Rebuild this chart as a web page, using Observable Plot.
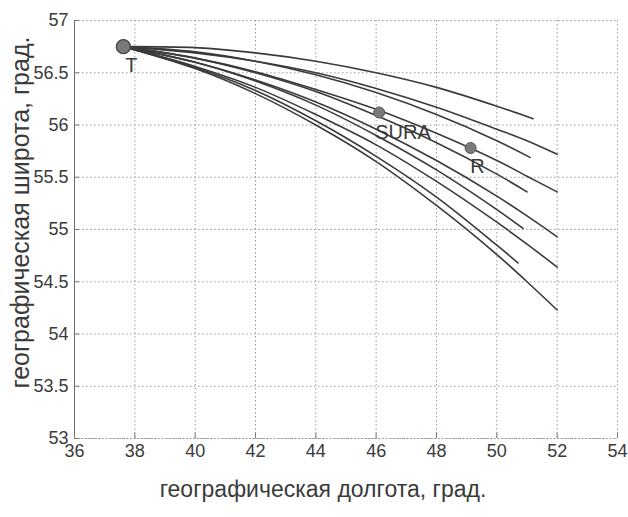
<!DOCTYPE html>
<html>
<head>
<meta charset="utf-8">
<script src="https://cdn.jsdelivr.net/npm/d3@7"></script>
<script src="https://cdn.jsdelivr.net/npm/@observablehq/plot@0.6"></script>
<style>
  html, body { margin: 0; padding: 0; background: #fff; }
  #chart svg { font-family: "Liberation Sans", Arial, sans-serif; }
</style>
</head>
<body>
<div id="chart"></div>
<script>
// Axis ticks
const xTicks = [36, 38, 40, 42, 44, 46, 48, 50, 52, 54];
const yTicks = [53, 53.5, 54, 54.5, 55, 55.5, 56, 56.5, 57];
const xLabel = "географическая долгота, град.";
const yLabel = "географическая широта, град.";

// Points (lon, lat)
const siteNames = ["T", "SURA", "R"];
const siteLon = [37.62, 46.1, 49.13];
const siteLat = [56.75, 56.12, 55.78];

// Ray paths (longitude / latitude)
const curveA_lon = [37.62, 40, 42, 44, 46, 48, 50, 51.2];
const curveA_lat = [56.75, 56.74, 56.69, 56.61, 56.50, 56.36, 56.18, 56.06];
const curveB_lon = [37.62, 40, 42, 44, 46, 48, 50, 51, 52];
const curveB_lat = [56.75, 56.69, 56.61, 56.50, 56.35, 56.17, 55.96, 55.85, 55.72];
const curveC_lon = [37.62, 40, 42, 44, 46, 48, 50, 51.1];
const curveC_lat = [56.75, 56.70, 56.61, 56.48, 56.31, 56.10, 55.85, 55.69];
const curveD_lon = [37.62, 40, 42, 44, 46, 48, 50, 51, 52];
const curveD_lat = [56.75, 56.64, 56.51, 56.34, 56.15, 55.92, 55.66, 55.51, 55.36];
const curveE_lon = [37.62, 40, 42, 44, 46, 48, 50, 51.0];
const curveE_lat = [56.75, 56.64, 56.50, 56.32, 56.09, 55.83, 55.53, 55.36];
const curveF_lon = [37.62, 40, 42, 44, 46, 48, 50, 51, 52];
const curveF_lat = [56.75, 56.60, 56.43, 56.22, 55.96, 55.66, 55.32, 55.13, 54.93];
const curveG_lon = [37.62, 40, 42, 44, 46, 48, 50, 50.87];
const curveG_lat = [56.75, 56.60, 56.42, 56.19, 55.90, 55.57, 55.19, 55.01];
const curveH_lon = [37.62, 40, 42, 44, 46, 48, 50, 51, 52];
const curveH_lat = [56.75, 56.56, 56.36, 56.10, 55.81, 55.46, 55.07, 54.86, 54.64];
const curveI_lon = [37.62, 40, 42, 44, 46, 48, 50, 50.7];
const curveI_lat = [56.75, 56.55, 56.33, 56.04, 55.70, 55.31, 54.85, 54.68];
const curveJ_lon = [37.62, 40, 42, 44, 46, 48, 50, 51, 52];
const curveJ_lat = [56.75, 56.54, 56.30, 56.00, 55.65, 55.23, 54.76, 54.50, 54.23];

const curves = [
  ["A", curveA_lon, curveA_lat], ["B", curveB_lon, curveB_lat],
  ["C", curveC_lon, curveC_lat], ["D", curveD_lon, curveD_lat],
  ["E", curveE_lon, curveE_lat], ["F", curveF_lon, curveF_lat],
  ["G", curveG_lon, curveG_lat], ["H", curveH_lon, curveH_lat],
  ["I", curveI_lon, curveI_lat], ["J", curveJ_lon, curveJ_lat]
];
const rows = curves.flatMap(([id, lon, lat]) => lon.map((x, i) => ({id, x, y: lat[i]})));
const sites = siteNames.map((name, i) => ({name, x: siteLon[i], y: siteLat[i]}));
const siteT = sites.filter(d => d.name === "T");
const siteSura = sites.filter(d => d.name === "SURA");
const siteR = sites.filter(d => d.name === "R");

const ink = "#3a3a3a";
const grid = "#9a9a9a";

const chart = Plot.plot({
  width: 628,
  height: 517,
  marginTop: 20,
  marginRight: 11,
  marginBottom: 79,
  marginLeft: 74,
  style: {background: "#fff", color: ink, fontSize: "18px", fontFamily: "'Liberation Sans', Arial, sans-serif"},
  x: {domain: [36, 54], ticks: xTicks},
  y: {domain: [53, 57], ticks: yTicks},
  marks: [
    Plot.gridX(xTicks, {stroke: grid, strokeOpacity: 1, strokeDasharray: "1.5,2.5"}),
    Plot.gridY(yTicks, {stroke: grid, strokeOpacity: 1, strokeDasharray: "1.5,2.5"}),
    Plot.ruleX([36], {stroke: "#6a6a6a", strokeWidth: 1}),
    Plot.ruleY([53], {stroke: "#a0a0a0", strokeWidth: 1, strokeDasharray: "2,1.5"}),
    Plot.ruleX(xTicks, {y1: 53, y2: 53.05, stroke: "#777"}),
    Plot.ruleY(yTicks, {x1: 36, x2: 36.17, stroke: "#777"}),
    Plot.axisX(xTicks, {tickSize: 0, tickPadding: 6, label: null, fontSize: 18, fill: ink, tickFormat: d => String(d)}),
    Plot.axisY(yTicks, {tickSize: 0, tickPadding: 6, label: null, fontSize: 18, fill: ink, tickFormat: d => String(d)}),
    Plot.line(rows, {x: "x", y: "y", z: "id", curve: "catmull-rom", stroke: ink, strokeWidth: 1.6}),
    Plot.dot(siteT, {x: "x", y: "y", r: 7, fill: "#7a7a7a", stroke: "#444", strokeWidth: 1.3}),
    Plot.dot(siteSura.concat(siteR), {x: "x", y: "y", r: 5.5, fill: "#7a7a7a", stroke: "#555", strokeWidth: 1}),
    Plot.text(siteT, {x: "x", y: "y", text: "name", dx: 8, dy: 19, fontSize: 20, fill: ink}),
    Plot.text(siteSura, {x: "x", y: "y", text: "name", textAnchor: "start", dx: -4, dy: 20, fontSize: 20, fill: ink}),
    Plot.text(siteR, {x: "x", y: "y", text: "name", dx: 7, dy: 19, fontSize: 20, fill: ink}),
    Plot.text([xLabel], {frameAnchor: "bottom", text: d => d, textAnchor: "middle", dx: -23, dy: 58, fontSize: 23, fill: ink}),
    Plot.text([yLabel], {frameAnchor: "left", text: d => d, textAnchor: "middle", rotate: -90, dx: -54, dy: -17, fontSize: 25, fill: ink})
  ]
});
document.getElementById("chart").appendChild(chart);
</script>
</body>
</html>
